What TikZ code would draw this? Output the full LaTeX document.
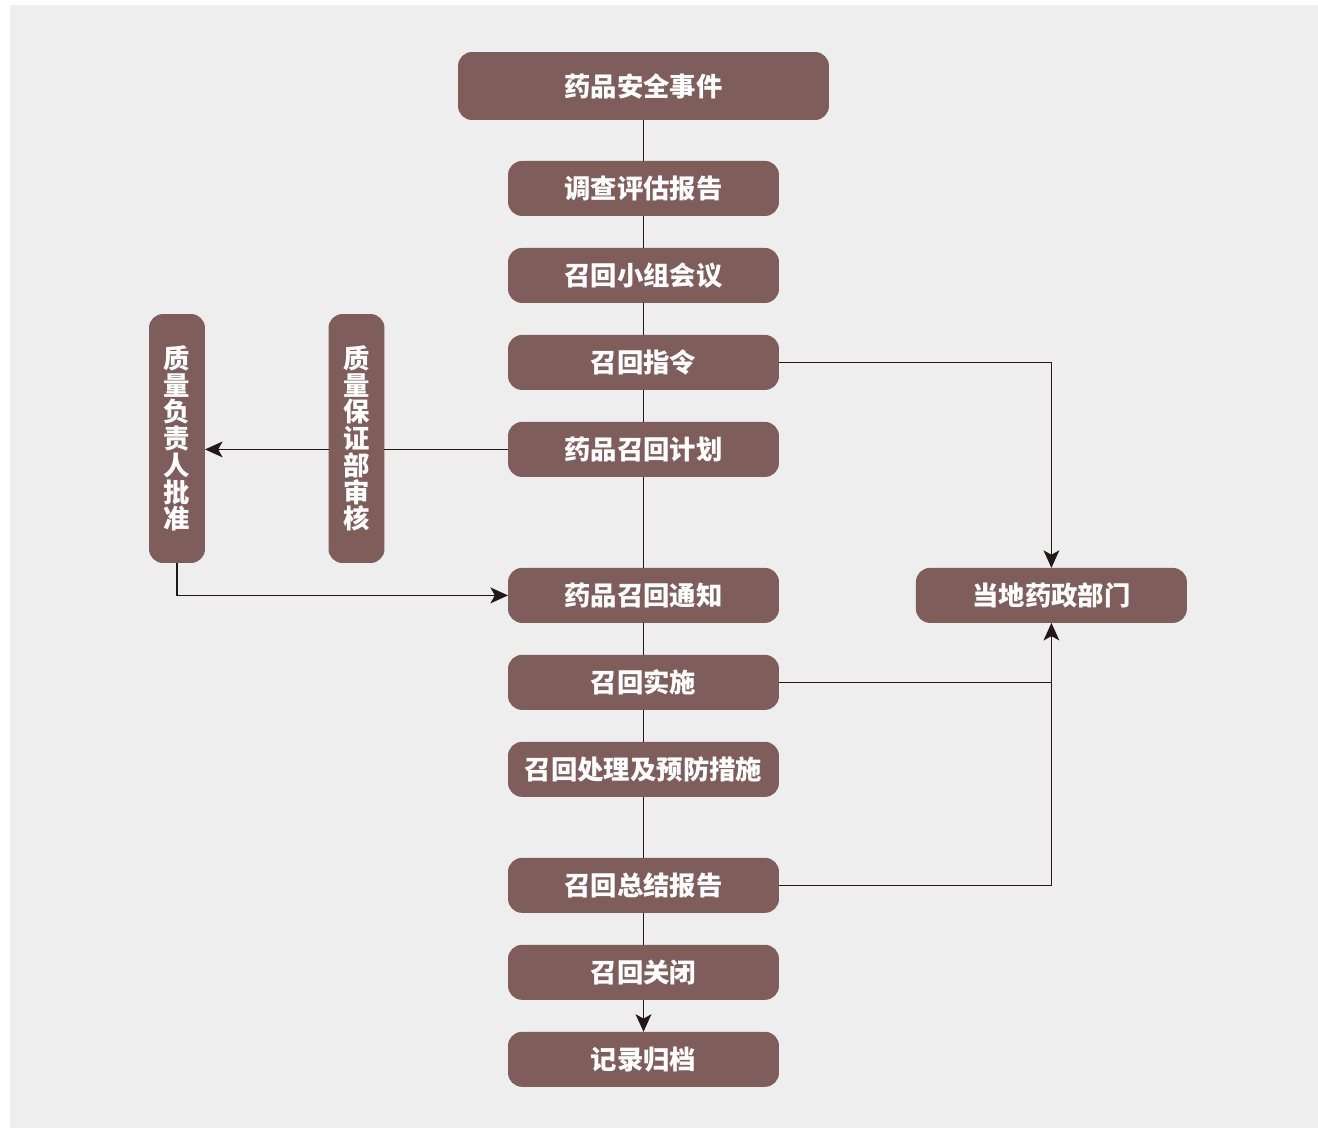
\documentclass[tikz,border=0pt]{standalone}
\usepackage{fontspec}
\newfontfamily\cjk{Noto Sans CJK SC}
\usepackage{xcolor}
\usepackage{tikz}
\usetikzlibrary{calc, positioning, arrows.meta}
\definecolor{boxfill}{HTML}{7F5D5A}
\definecolor{bggray}{HTML}{EDEEED}
\definecolor{linecol}{HTML}{231815}

\begin{document}
\begin{tikzpicture}[
			x=0.02cm, y=-0.02cm,
			node distance=0.64cm,
			>={Stealth[length=10pt, width=9pt, inset=2.5pt]},
			stepbox/.style={fill=boxfill, rounded corners=0.28cm, rectangle, minimum width=5.42cm, minimum height=1.1cm, inner sep=0pt, outer sep=0pt, align=center, text=white, font=\cjk\bfseries\fontsize{15}{15.2}\selectfont},
			topbox/.style={stepbox, minimum width=7.42cm, minimum height=1.36cm},
			vertbox/.style={stepbox, minimum width=1.12cm, minimum height=4.98cm},
			conn/.style={draw=linecol, line width=0.85pt}
		]
		\useasboundingbox (0,0) rectangle (1318,1128);
		\fill[bggray] (10,5) rectangle (1318,1128);

		\node[topbox] (event) at (643.5,86) {药品安全事件};
		\node[stepbox, below=0.82cm of event] (investigate) {调查评估报告};
		\node[stepbox, below=of investigate] (meeting) {召回小组会议};
		\node[stepbox, below=of meeting] (order) {召回指令};
		\node[stepbox, below=of order] (plan) {药品召回计划};
		\node[stepbox, below=1.82cm of plan] (notice) {药品召回通知};
		\node[stepbox, below=of notice] (implement) {召回实施};
		\node[stepbox, below=of implement] (handling) {召回处理及预防措施};
		\node[stepbox, below=1.22cm of handling] (summary) {召回总结报告};
		\node[stepbox, below=of summary] (close) {召回关闭};
		\node[stepbox, below=of close] (archive) {记录归档};

		\node[vertbox] (review) at (356.5,438.5) {质\\量\\保\\证\\部\\审\\核};
		\node[vertbox] (approve) at (177,438.5) {质\\量\\负\\责\\人\\批\\准};
		\node[stepbox, right=2.74cm of notice] (agency) {当地药政部门};

		\draw[conn] (event) -- (investigate);
		\draw[conn] (investigate) -- (meeting);
		\draw[conn] (meeting) -- (order);
		\draw[conn] (order) -- (plan);
		\draw[conn] (plan) -- (notice);
		\draw[conn] (notice) -- (implement);
		\draw[conn] (implement) -- (handling);
		\draw[conn] (handling) -- (summary);
		\draw[conn] (summary) -- (close);
		\draw[conn, ->] (close) -- (archive);

		\draw[conn] (plan.west) -- (plan.west -| review.east);
		\draw[conn, ->] (plan.west -| review.west) -- (plan.west -| approve.east);
		\draw[conn, ->] (approve.south) |- (notice.west);

		\draw[conn, ->] (order.east) -| (agency.north);
		\draw[conn] (implement.east) -- (implement.east -| agency.south);
		\draw[conn, ->] (summary.east) -| (agency.south);
	\end{tikzpicture}
\end{document}
